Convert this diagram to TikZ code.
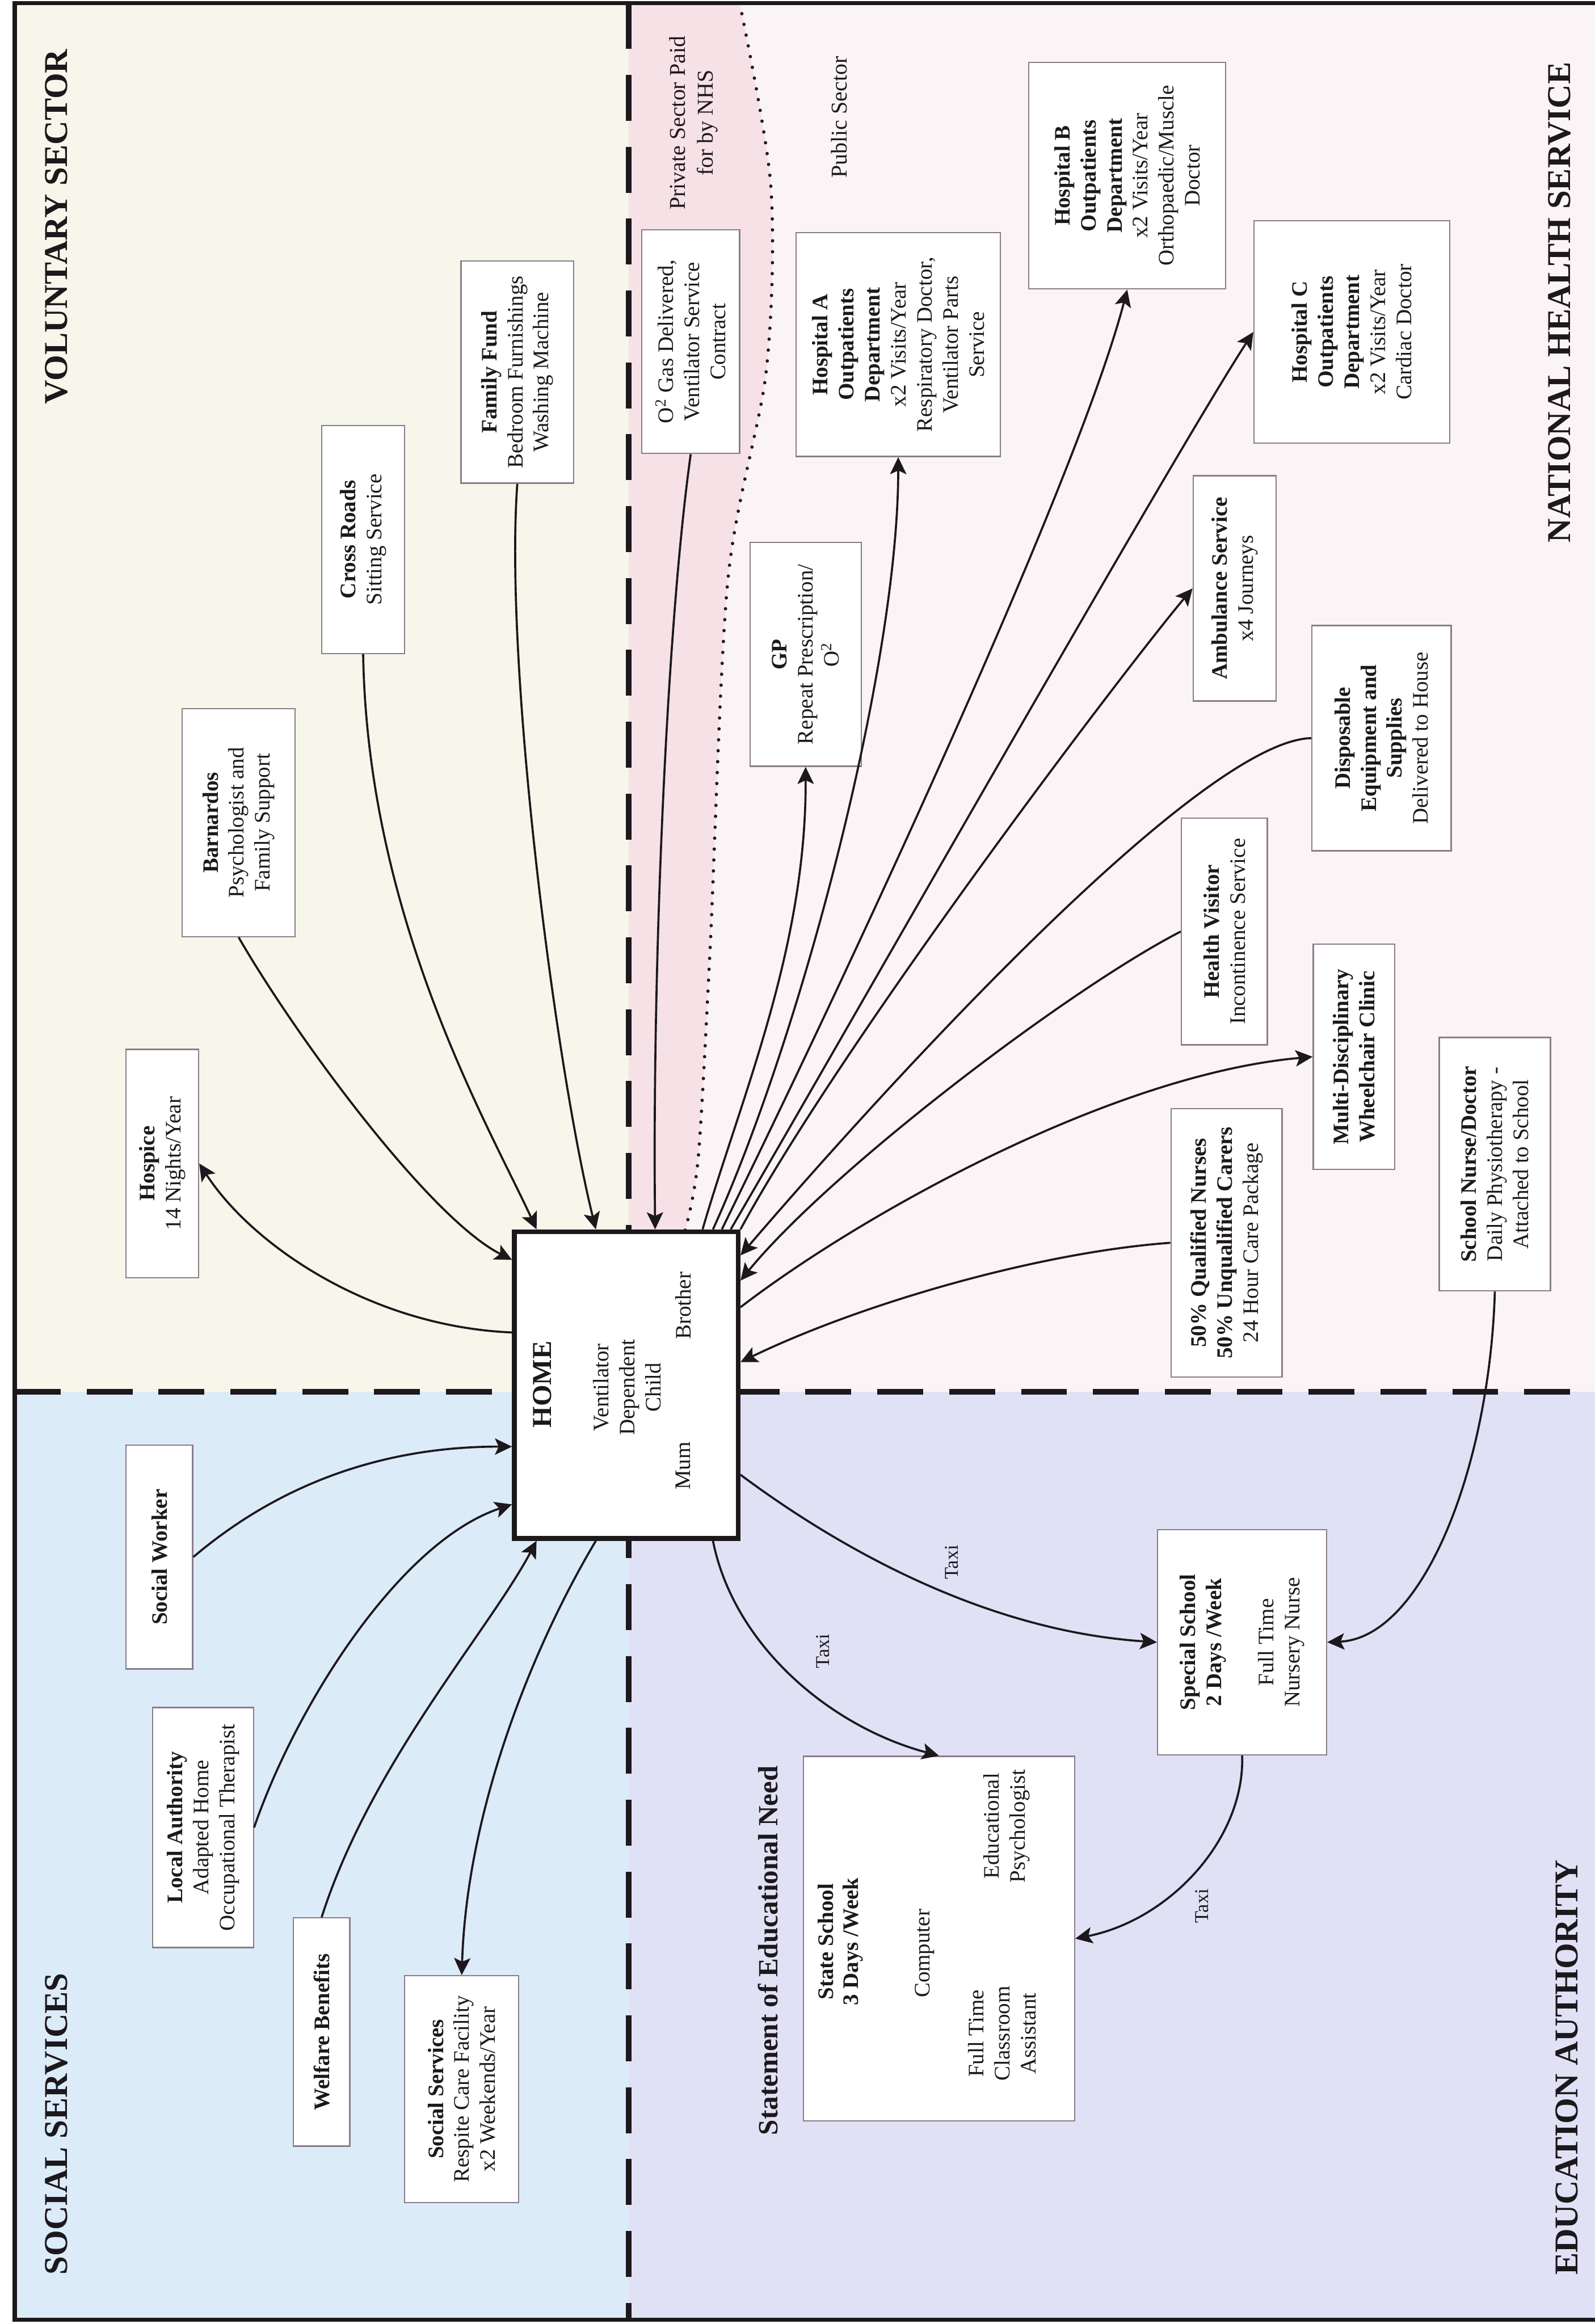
\documentclass[tikz,border=0pt]{standalone}
\usepackage{fontspec}
\setmainfont{Liberation Serif}
\usetikzlibrary{calc,arrows.meta}
\definecolor{volc}{HTML}{F6F7EA}
\definecolor{socc}{HTML}{DCEBF8}
\definecolor{educ}{HTML}{E1E1F6}
\definecolor{nhsc}{HTML}{FAF4F6}
\definecolor{privc}{HTML}{F6E1E7}
\definecolor{boxln}{HTML}{8A7C8A}
\definecolor{ink}{HTML}{1C181C}
\begin{document}
\begin{tikzpicture}[x=0.02cm,y=-0.02cm,
  box/.style={draw=boxln, line width=0.5pt, fill=white, rotate=90, align=center, inner sep=0pt, text=ink, font=\fontsize{8.5}{10}\selectfont},
  lbl/.style={rotate=90, align=center, inner sep=0pt, text=ink, font=\fontsize{8.5}{10}\selectfont},
  hdr/.style={rotate=90, inner sep=0pt, text=ink, font=\fontsize{12.8}{15}\selectfont\bfseries},
  conn/.style={draw=ink, line width=0.8pt},
  arr/.style={conn, -{Stealth[length=2.3mm,width=2.2mm,inset=0.5mm]}},
  divider/.style={draw=ink, line width=2.2pt, dash pattern=on 0.62cm off 0.35cm},
]
\useasboundingbox (0,0) rectangle (1076,1568);
% regions
\fill[volc] (10,2) rectangle (424,939);
\fill[socc] (10,939) rectangle (424,1565);
\fill[educ] (424,939) rectangle (1076,1565);
\fill[nhsc] (424,2) rectangle (1076,939);
\fill[privc] (424,2) -- plot[smooth] coordinates {(499,2) (520,125) (517,250) (491,392) (479,642) (471,782) (462,831)} -- (424,831) -- cycle;
\draw[ink, line width=1.3pt, line cap=round, dash pattern=on 0pt off 4.2pt] plot[smooth] coordinates {(499,2) (520,125) (517,250) (491,392) (479,642) (471,782) (462,831)};
\draw[divider] (424,2) -- (424,1565);
\draw[divider] (10,939) -- (1076,939);
\draw[ink, line width=1.6pt] (1076,2) -- (10,2) -- (10,1565) -- (1076,1565);

% headers and labels
\node[hdr] (hvol) at (38,153) {VOLUNTARY SECTOR};
\node[hdr] (hsoc) at (38,1433) {SOCIAL SERVICES};
\node[hdr] (hnhs) at (1052,204) {NATIONAL HEALTH SERVICE};
\node[hdr] (hedu) at (1057,1395) {EDUCATION AUTHORITY};
\node[lbl, font=\fontsize{8.7}{10.8}\selectfont] (priv) at (468,83) {Private Sector Paid\\for by NHS};
\node[lbl, font=\fontsize{8.7}{10.8}\selectfont] (pub) at (566,79) {Public Sector};
\node[lbl, font=\fontsize{10.7}{12}\selectfont\bfseries] (sen) at (518,1316) {Statement of Educational Need};

% voluntary sector
\node[box, minimum width=3.08cm, minimum height=0.98cm] (hospice) at (109.5,785) {\textbf{Hospice}\\14 Nights/Year};
\node[box, minimum width=3.08cm, minimum height=1.52cm] (barn) at (161,555) {\textbf{Barnardos}\\Psychologist and\\Family Support};
\node[box, minimum width=3.08cm, minimum height=1.12cm] (cross) at (245,364) {\textbf{Cross Roads}\\Sitting Service};
\node[box, minimum width=3.00cm, minimum height=1.52cm] (ff) at (349,251) {\textbf{Family Fund}\\Bedroom Furnishings\\Washing Machine};
% NHS
\node[box, minimum width=3.02cm, minimum height=1.32cm] (o2) at (466,230.5) {O\textsuperscript{2} Gas Delivered,\\Ventilator Service\\Contract};
\node[box, minimum width=3.02cm, minimum height=1.50cm] (gp) at (543.5,441.5) {\textbf{GP}\\Repeat Prescription/\\O\textsuperscript{2}};
\node[box, minimum width=3.02cm, minimum height=2.76cm] (hospA) at (606,232.5) {\textbf{Hospital A}\\\textbf{Outpatients}\\\textbf{Department}\\x2 Visits/Year\\Respiratory Doctor,\\Ventilator Parts\\Service};
\node[box, minimum width=3.06cm, minimum height=2.66cm] (hospB) at (760.5,118.5) {\textbf{Hospital B}\\\textbf{Outpatients}\\\textbf{Department}\\x2 Visits/Year\\Orthopaedic/Muscle\\Doctor};
\node[box, minimum width=3.00cm, minimum height=2.64cm] (hospC) at (912,224) {\textbf{Hospital C}\\\textbf{Outpatients}\\\textbf{Department}\\x2 Visits/Year\\Cardiac Doctor};
\node[box, minimum width=3.04cm, minimum height=1.12cm] (amb) at (833,397) {\textbf{Ambulance Service}\\x4 Journeys};
\node[box, minimum width=3.04cm, minimum height=1.88cm] (disp) at (932,498) {\textbf{Disposable}\\\textbf{Equipment and}\\\textbf{Supplies}\\Delivered to House};
\node[box, minimum width=3.06cm, minimum height=1.16cm] (hv) at (826,628.5) {\textbf{Health Visitor}\\Incontinence Service};
\node[box, minimum width=3.04cm, minimum height=1.10cm] (multi) at (913.5,713) {\textbf{Multi-Disciplinary}\\\textbf{Wheelchair Clinic}};
\node[box, minimum width=3.62cm, minimum height=1.50cm] (fifty) at (827.5,838.5) {\textbf{50\% Qualified Nurses}\\\textbf{50\% Unqualified Carers}\\24 Hour Care Package};
\node[box, minimum width=3.42cm, minimum height=1.50cm] (sn) at (1008.5,785.5) {\textbf{School Nurse/Doctor}\\Daily Physiotherapy -\\Attached to School};
% home
\node[box, draw=ink, line width=1.8pt, minimum width=4.14cm, minimum height=3.02cm] (home) at (422.5,934.5) {};
\node[lbl, font=\fontsize{10.5}{12}\selectfont\bfseries] (homet) at (366,934) {HOME};
\node[lbl] (child) at (423,936) {Ventilator\\Dependent\\Child};
\node[lbl] (mum) at (461,989) {Mum};
\node[lbl] (bro) at (461,881) {Brother};
% social services
\node[box, minimum width=3.02cm, minimum height=0.90cm] (sw) at (107.5,1050.5) {\textbf{Social Worker}};
\node[box, minimum width=3.24cm, minimum height=1.36cm] (la) at (137,1233) {\textbf{Local Authority}\\Adapted Home\\Occupational Therapist};
\node[box, minimum width=3.08cm, minimum height=0.76cm] (wel) at (217,1371) {\textbf{Welfare Benefits}};
\node[box, minimum width=3.06cm, minimum height=1.54cm] (resp) at (311.5,1409.5) {\textbf{Social Services}\\Respite Care Facility\\x2 Weekends/Year};
% education
\node[box, minimum width=4.92cm, minimum height=3.66cm] (state) at (633.5,1308) {};
\node[lbl, font=\fontsize{8.5}{9.5}\selectfont\bfseries] (sst) at (567,1310) {State School\\3 Days /Week};
\node[lbl] (comp) at (624,1318) {Computer};
\node[lbl] (fta) at (676,1372) {Full Time\\Classroom\\Assistant};
\node[lbl] (edp) at (679,1232) {Educational\\Psychologist};
\node[box, minimum width=3.04cm, minimum height=2.28cm] (spec) at (838,1108) {\textbf{Special School}\\\textbf{2 Days /Week}\\[10pt]Full Time\\Nursery Nurse};
\node[lbl, font=\fontsize{7.5}{9}\selectfont] (taxi1) at (555,1114) {Taxi};
\node[lbl, font=\fontsize{7.5}{9}\selectfont] (taxi2) at (642,1054) {Taxi};
\node[lbl, font=\fontsize{7.5}{9}\selectfont] (taxi3) at (811,1286) {Taxi};

% connectors: voluntary
\draw[arr] ($(home.north)+(0,-35.5)$) .. controls (250,895) and (170,840) .. (hospice.south);
\draw[arr] (barn.west) .. controls (200,700) and (290,822) .. ($(home.north)+(0,-84.5)$);
\draw[arr] (cross.west) .. controls (248,620) and (330,760) .. ($(home.east)+(-60.5,0)$);
\draw[arr] (ff.west) .. controls (340,450) and (375,720) .. ($(home.east)+(-20.5,0)$);
\draw[arr] (o2.west) .. controls (450,420) and (440,650) .. ($(home.east)+(19.5,0)$);
% NHS
\draw[arr] ($(home.east)+(51.5,0)$) .. controls (500,740) and (544,640) .. (gp.west);
\draw[arr] ($(home.east)+(58.5,0)$) .. controls (540,700) and (606,450) .. (hospA.west);
\draw[arr] ($(home.east)+(64.5,0)$) .. controls (580,640) and (728,320) .. (hospB.west);
\draw[arr] ($(home.east)+(70.5,0)$) .. controls (580,680) and (790,310) .. (hospC.north);
\draw[arr] (home.south east) .. controls (570,700) and (760,450) .. (amb.north);
\draw[arr] (disp.north) .. controls (810,500) and (600,730) .. ($(home.south)+(0,-87.5)$);
\draw[arr] (hv.north) .. controls (720,668) and (560,790) .. ($(home.south)+(0,-70.5)$);
\draw[arr] ($(home.south)+(0,-52.5)$) .. controls (580,820) and (750,725) .. (multi.north);
\draw[arr] (fifty.north) .. controls (700,845) and (580,880) .. ($(home.south)+(0,-15.5)$);
% education
\draw[arr] ($(home.south)+(0,60.5)$) .. controls (560,1040) and (660,1100) .. (spec.north);
\draw[arr] ($(home.west)+(58.5,0)$) .. controls (495,1110) and (560,1165) .. (state.east);
\draw[arr, {Stealth[length=2.3mm,width=2.2mm,inset=0.5mm]}-] (state.south) .. controls (790,1295) and (840,1240) .. (spec.west);
\draw[arr] (sn.west) .. controls (1005,990) and (960,1105) .. (spec.south);
% social services
\draw[arr] (sw.south) .. controls (190,1000) and (260,976) .. ($(home.north)+(0,41.5)$);
\draw[arr] (la.south) .. controls (200,1150) and (270,1040) .. ($(home.north)+(0,80.5)$);
\draw[arr] (wel.east) .. controls (250,1190) and (330,1100) .. ($(home.west)+(-60.5,0)$);
\draw[arr] ($(home.west)+(-20.5,0)$) .. controls (360,1110) and (315,1220) .. (resp.east);
\end{tikzpicture}
\end{document}
